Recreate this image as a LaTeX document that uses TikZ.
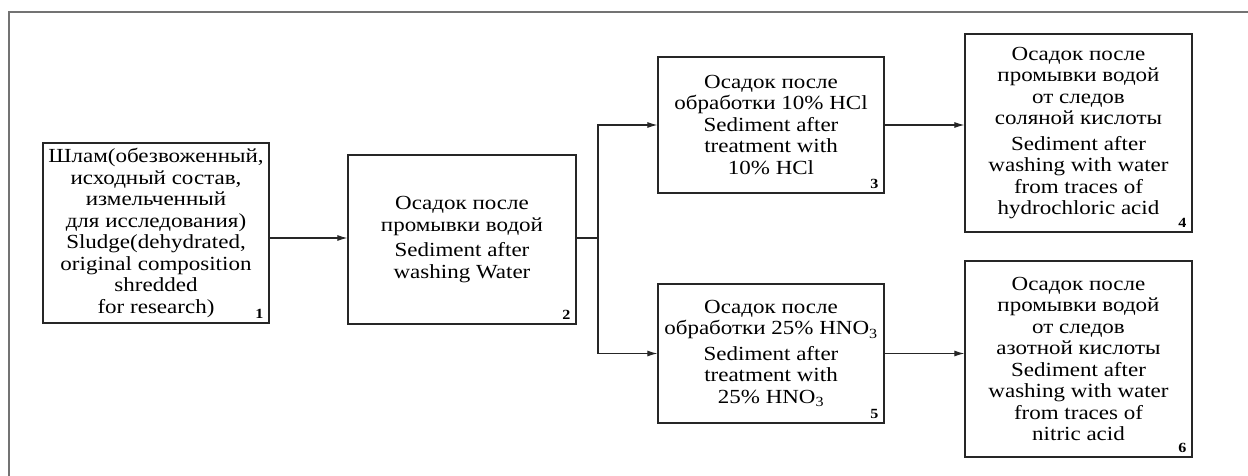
\documentclass[tikz,border=0pt]{standalone}
\usepackage{fontspec}
\setmainfont[FakeStretch=1.15]{Liberation Serif}
\usetikzlibrary{arrows.meta}
\usetikzlibrary{calc}

\begin{document}
\begin{tikzpicture}[x=1pt,y=-1pt,
  blk/.style={draw=black!85,line width=1.3pt,inner sep=0pt,align=center,font=\fontsize{20}{21.5}\selectfont},
  num/.style={anchor=south east,inner sep=0pt,font=\fontsize{14}{14}\selectfont\bfseries},
  link/.style={draw=black!85,line width=1.1pt,-{Latex[length=10pt,width=6pt]}}]
\useasboundingbox (0,0) rectangle (1248,476);
\draw [black!55,line width=1.6pt] (1248,12) -- (9,12) -- (9,476);
\node (box1) [blk,minimum width=226,minimum height=180] at (156,233) {Шлам(обезвоженный,\\исходный состав,\\измельченный\\для исследования)\\Sludge(dehydrated,\\original composition\\shredded\\for research)};
\node (box2) [blk,minimum width=228,minimum height=169] at (462,239.5) {Осадок после\\промывки водой\\[4pt]Sediment after\\washing Water};
\node (box3) [blk,minimum width=226,minimum height=136] at (771,125) {Осадок после\\обработки 10\% HCl\\Sediment after\\treatment with\\10\% HCl};
\node (box4) [blk,minimum width=227,minimum height=198] at (1078.5,133) {Осадок после\\промывки водой\\от следов\\соляной кислоты\\[4pt]Sediment after\\washing with water\\from traces of\\hydrochloric acid};
\node (box5) [blk,minimum width=226,minimum height=139] at (771,353.5) {Осадок после\\обработки 25\% HNO\textsubscript{3}\\[4pt]Sediment after\\treatment with\\25\% HNO\textsubscript{3}};
\node (box6) [blk,minimum width=227,minimum height=196] at (1078.5,359) {Осадок после\\промывки водой\\от следов\\азотной кислоты\\Sediment after\\washing with water\\from traces of\\nitric acid};
\node (n1) [num] at ($(box1.south east)+(-6,-5)$) {1};
\node (n2) [num] at ($(box2.south east)+(-6,-5)$) {2};
\node (n3) [num] at ($(box3.south east)+(-6,-5)$) {3};
\node (n4) [num] at ($(box4.south east)+(-6,-5)$) {4};
\node (n5) [num] at ($(box5.south east)+(-6,-5)$) {5};
\node (n6) [num] at ($(box6.south east)+(-6,-5)$) {6};
\coordinate (split) at (598,238);
\draw [link] (box1.east |- split) -- (box2.west |- split);
\draw [draw=black!85,line width=1.1pt] (box2.east |- split) -- (split);
\draw [link] (split) |- (box3.west);
\draw [link] (split) |- (box5.west);
\draw [link] (box3.east) -- (box3.east -| box4.west);
\draw [link] (box5.east) -- (box5.east -| box6.west);
\end{tikzpicture}
\end{document}
